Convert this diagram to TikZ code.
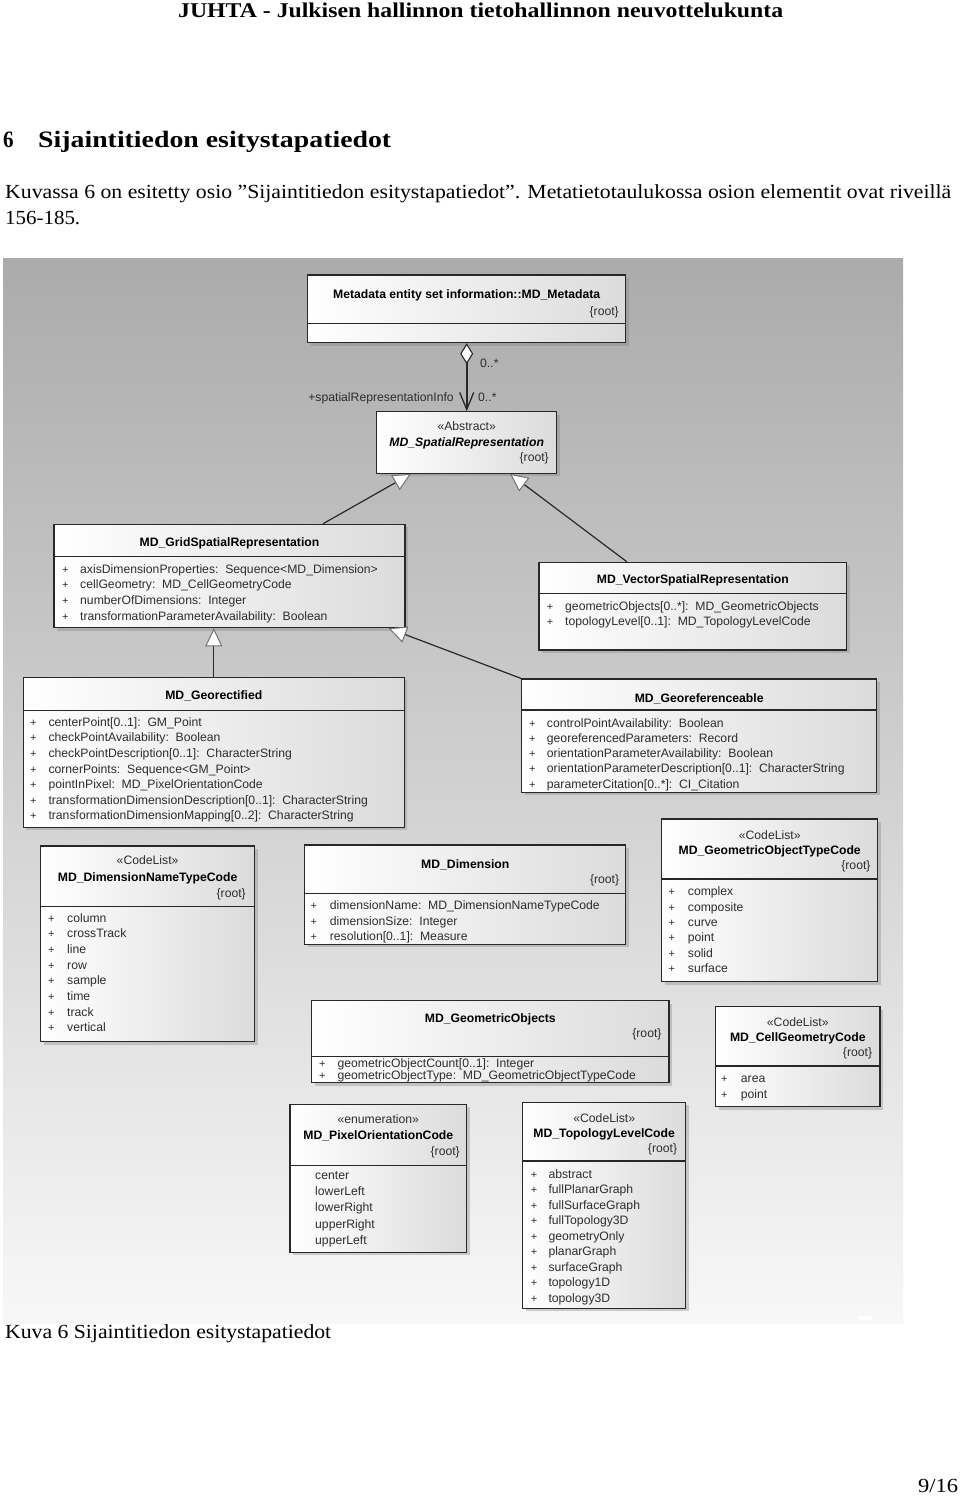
\documentclass[tikz,border=0pt]{standalone}
\usepackage{fontspec}
\setmainfont{Liberation Serif}
\newfontfamily\umlfont{Liberation Sans}
\usetikzlibrary{arrows.meta,shadows,fit}
\definecolor{umlline}{RGB}{40,40,40}
\definecolor{umltext}{RGB}{45,45,45}
\newcommand{\fitw}[2]{\resizebox{#1}{\height}{#2}}
% one row per entry: + sign and text
\newcommand{\attrlist}[6]{%
  \foreach \entry [count=\i from 0] in {#6} {
    \node[plus] (#1p\i) at (#2,{#4+#5*\i}) {+};
    \node[attr] (#1a\i) at (#3,{#4+#5*\i}) {\entry};
  }}
\begin{document}
\begin{tikzpicture}[x=1pt,y=-1pt,
  umlbox/.style={draw=umlline, line width=1.1pt, inner sep=0pt, left color=white, right color=black!14,
    drop shadow={shadow xshift=3pt, shadow yshift=-3pt, opacity=0.35}},
  sepline/.style={draw=umlline, line width=1.1pt},
  title/.style={anchor=base, inner sep=0pt, font=\umlfont\fontsize{12.2}{14}\selectfont\bfseries},
  stereo/.style={anchor=base, inner sep=0pt, text=umltext, font=\umlfont\fontsize{12.2}{14}\selectfont},
  rootlbl/.style={anchor=base east, inner sep=0pt, text=umltext, font=\umlfont\fontsize{12.2}{14}\selectfont},
  attr/.style={anchor=base west, inner sep=0pt, text=umltext, font=\umlfont\fontsize{12.2}{14}\selectfont},
  plus/.style={attr, font=\umlfont\fontsize{11}{13}\selectfont},
  genline/.style={draw=umlline, line width=1.2pt, -{Triangle[length=18pt, width=17pt, fill=white, color=black!55, line width=1pt]}},
  aggline/.style={draw=umlline, line width=2pt, {Diamond[length=21pt, width=13pt, fill=white, line width=1.1pt]}-{Straight Barb[length=17pt, width=14pt, line width=1.3pt]}},
  pagetext/.style={anchor=base west, inner sep=0pt}]
\useasboundingbox (0,0) rectangle (960,1497);
\fill[white] (0,0) rectangle (960,1497);

% page text
\node[pagetext, font=\fontsize{21}{24}\selectfont\bfseries] (header) at (178,17) {\fitw{605pt}{JUHTA - Julkisen hallinnon tietohallinnon neuvottelukunta}};
\node[pagetext, font=\fontsize{23.5}{28}\selectfont\bfseries] (secnum) at (3,147) {\fitw{10.5pt}{6}};
\node[pagetext, font=\fontsize{23.5}{28}\selectfont\bfseries] (sectitle) at (38,147) {\fitw{353pt}{Sijaintitiedon esitystapatiedot}};
\node[pagetext, font=\fontsize{20}{24}\selectfont] (para1) at (5,198) {\fitw{946pt}{Kuvassa 6 on esitetty osio ”Sijaintitiedon esitystapatiedot”. Metatietotaulukossa osion elementit ovat riveillä}};
\node[pagetext, font=\fontsize{20}{24}\selectfont] (para2) at (5,224) {\fitw{75pt}{156-185.}};
\node[pagetext, font=\fontsize{20}{24}\selectfont] (caption) at (5,1338) {\fitw{326pt}{Kuva 6 Sijaintitiedon esitystapatiedot}};
\node[pagetext, font=\fontsize{20}{24}\selectfont] (pagenum) at (918,1492) {\fitw{40pt}{9/16}};

% diagram background
\shade[top color=black!33, bottom color=black!3] (3,258) rectangle (903,1323);
\fill[white] (859,1316) rectangle (872,1320);

% boxes
\node[umlbox, fit={(307.7,275) (625.7,342.7)}] (meta) {};
\draw[sepline] (307.7,323.3) -- (625.7,323.3);
\node[umlbox, fit={(376.7,411.7) (556.7,473.3)}] (spatial) {};
\node[umlbox, fit={(54,524.3) (405,627.7)}] (grid) {};
\draw[sepline] (54,556.7) -- (405,556.7);
\node[umlbox, fit={(539,562.3) (846.7,650)}] (vector) {};
\draw[sepline] (539,593.3) -- (846.7,593.3);
\node[umlbox, fit={(23.3,677.3) (404.3,827.3)}] (georect) {};
\draw[sepline] (23.3,710.7) -- (404.3,710.7);
\node[umlbox, fit={(521.7,679) (876.7,792.3)}] (georef) {};
\draw[sepline] (521.7,710) -- (876.7,710);
\node[umlbox, fit={(40.7,846) (254.6,1041.7)}] (dimcode) {};
\draw[sepline] (40.7,906.7) -- (254.6,906.7);
\node[umlbox, fit={(304.8,845) (625.9,944.3)}] (dimension) {};
\draw[sepline] (304.8,893.3) -- (625.9,893.3);
\node[umlbox, fit={(661.7,819) (877.7,981.7)}] (geomtype) {};
\draw[sepline] (661.7,879) -- (877.7,879);
\node[umlbox, fit={(715.7,1006.7) (880,1106.7)}] (cellgeom) {};
\draw[sepline] (715.7,1066) -- (880,1066);
\node[umlbox, fit={(311.7,1000.7) (669,1082.7)}] (geomobj) {};
\draw[sepline] (311.7,1056.7) -- (669,1056.7);
\node[umlbox, fit={(290,1104.3) (466.7,1252.3)}] (pixel) {};
\draw[sepline] (290,1165.7) -- (466.7,1165.7);
\node[umlbox, fit={(522.7,1102.3) (685.7,1308.3)}] (topo) {};
\draw[sepline] (522.7,1161) -- (685.7,1161);

% headers
\node[title] (metaT) at (466.7,298.5) {Metadata entity set information::MD\_Metadata};
\node[rootlbl] (metaR) at (619,315.5) {\{root\}};
\node[stereo] (spatialS) at (466.7,430) {«Abstract»};
\node[title, font=\umlfont\fontsize{12.2}{14}\selectfont\bfseries\itshape] (spatialT) at (466.7,446) {MD\_SpatialRepresentation};
\node[rootlbl] (spatialR) at (549,461.5) {\{root\}};
\node[title] (gridT) at (229.5,546.5) {MD\_GridSpatialRepresentation};
\node[title] (vectorT) at (692.9,583.5) {MD\_VectorSpatialRepresentation};
\node[title] (georectT) at (213.8,699) {MD\_Georectified};
\node[title] (georefT) at (699.2,702.5) {MD\_Georeferenceable};
\node[stereo] (dimcodeS) at (147.6,864.5) {«CodeList»};
\node[title] (dimcodeT) at (147.6,881.5) {MD\_DimensionNameTypeCode};
\node[rootlbl] (dimcodeR) at (246,897.5) {\{root\}};
\node[title] (dimensionT) at (465.3,868.5) {MD\_Dimension};
\node[rootlbl] (dimensionR) at (619.4,883.5) {\{root\}};
\node[stereo] (geomtypeS) at (769.7,839) {«CodeList»};
\node[title] (geomtypeT) at (769.7,854.5) {MD\_GeometricObjectTypeCode};
\node[rootlbl] (geomtypeR) at (870.7,869.5) {\{root\}};
\node[stereo] (cellgeomS) at (797.8,1026) {«CodeList»};
\node[title] (cellgeomT) at (797.8,1041) {MD\_CellGeometryCode};
\node[rootlbl] (cellgeomR) at (872.3,1056) {\{root\}};
\node[title] (geomobjT) at (490.3,1022.5) {MD\_GeometricObjects};
\node[rootlbl] (geomobjR) at (661.7,1037.5) {\{root\}};
\node[stereo] (pixelS) at (378.3,1123.5) {«enumeration»};
\node[title] (pixelT) at (378.3,1139.5) {MD\_PixelOrientationCode};
\node[rootlbl] (pixelR) at (460,1155.5) {\{root\}};
\node[stereo] (topoS) at (604.2,1122) {«CodeList»};
\node[title] (topoT) at (604.2,1137) {MD\_TopologyLevelCode};
\node[rootlbl] (topoR) at (677.3,1152.5) {\{root\}};

% attributes
\attrlist{grid}{62}{80}{573.3}{15.6}{axisDimensionProperties:~~Sequence<MD\_Dimension>, cellGeometry:~~MD\_CellGeometryCode, numberOfDimensions:~~Integer, transformationParameterAvailability:~~Boolean}
\attrlist{vector}{546.7}{565}{610}{15}{geometricObjects[0..*]:~~MD\_GeometricObjects, topologyLevel[0..1]:~~MD\_TopologyLevelCode}
\attrlist{georect}{30}{48.3}{726.3}{15.57}{centerPoint[0..1]:~~GM\_Point, checkPointAvailability:~~Boolean, checkPointDescription[0..1]:~~CharacterString, cornerPoints:~~Sequence<GM\_Point>, pointInPixel:~~MD\_PixelOrientationCode, transformationDimensionDescription[0..1]:~~CharacterString, transformationDimensionMapping[0..2]:~~CharacterString}
\attrlist{georef}{529}{546.7}{727}{15.3}{controlPointAvailability:~~Boolean, georeferencedParameters:~~Record, orientationParameterAvailability:~~Boolean, orientationParameterDescription[0..1]:~~CharacterString, parameterCitation[0..*]:~~CI\_Citation}
\attrlist{dimcode}{48}{67}{922.3}{15.63}{column, crossTrack, line, row, sample, time, track, vertical}
\attrlist{dimension}{310.5}{329.7}{909.7}{15.5}{dimensionName:~~MD\_DimensionNameTypeCode, dimensionSize:~~Integer, resolution[0..1]:~~Measure}
\attrlist{geomtype}{668.3}{687.7}{895.7}{15.4}{complex, composite, curve, point, solid, surface}
\attrlist{cellgeom}{721}{740.7}{1082.3}{15.7}{area, point}
\attrlist{geomobj}{319}{337.3}{1067}{12.8}{geometricObjectCount[0..1]:~~Integer, geometricObjectType:~~MD\_GeometricObjectTypeCode}
\foreach \entry [count=\i from 0] in {center, lowerLeft, lowerRight, upperRight, upperLeft}
  \node[attr] (pixela\i) at (315,{1179.7+16.1*\i}) {\entry};
\attrlist{topo}{530.7}{548.3}{1178.3}{15.5}{abstract, fullPlanarGraph, fullSurfaceGraph, fullTopology3D, geometryOnly, planarGraph, surfaceGraph, topology1D, topology3D}

% connectors
\draw[aggline] (meta.south) -- (spatial.north);
\node[attr] (aggmult1) at (480,367) {0..*};
\node[attr] (aggmult2) at (478,401) {0..*};
\node[attr, anchor=base east] (aggrole) at (454,401) {+spatialRepresentationInfo};
\draw[genline] ([xshift=93.5pt]grid.north) -- ([xshift=-55.7pt]spatial.south);
\draw[genline] ([xshift=-66pt]vector.north) -- ([xshift=43.3pt]spatial.south);
\draw[genline] (georect.north) -- (georect.north |- grid.south);
\draw[genline] (georef.north west) -- ([xshift=-17pt]grid.south east);
\end{tikzpicture}
\end{document}
